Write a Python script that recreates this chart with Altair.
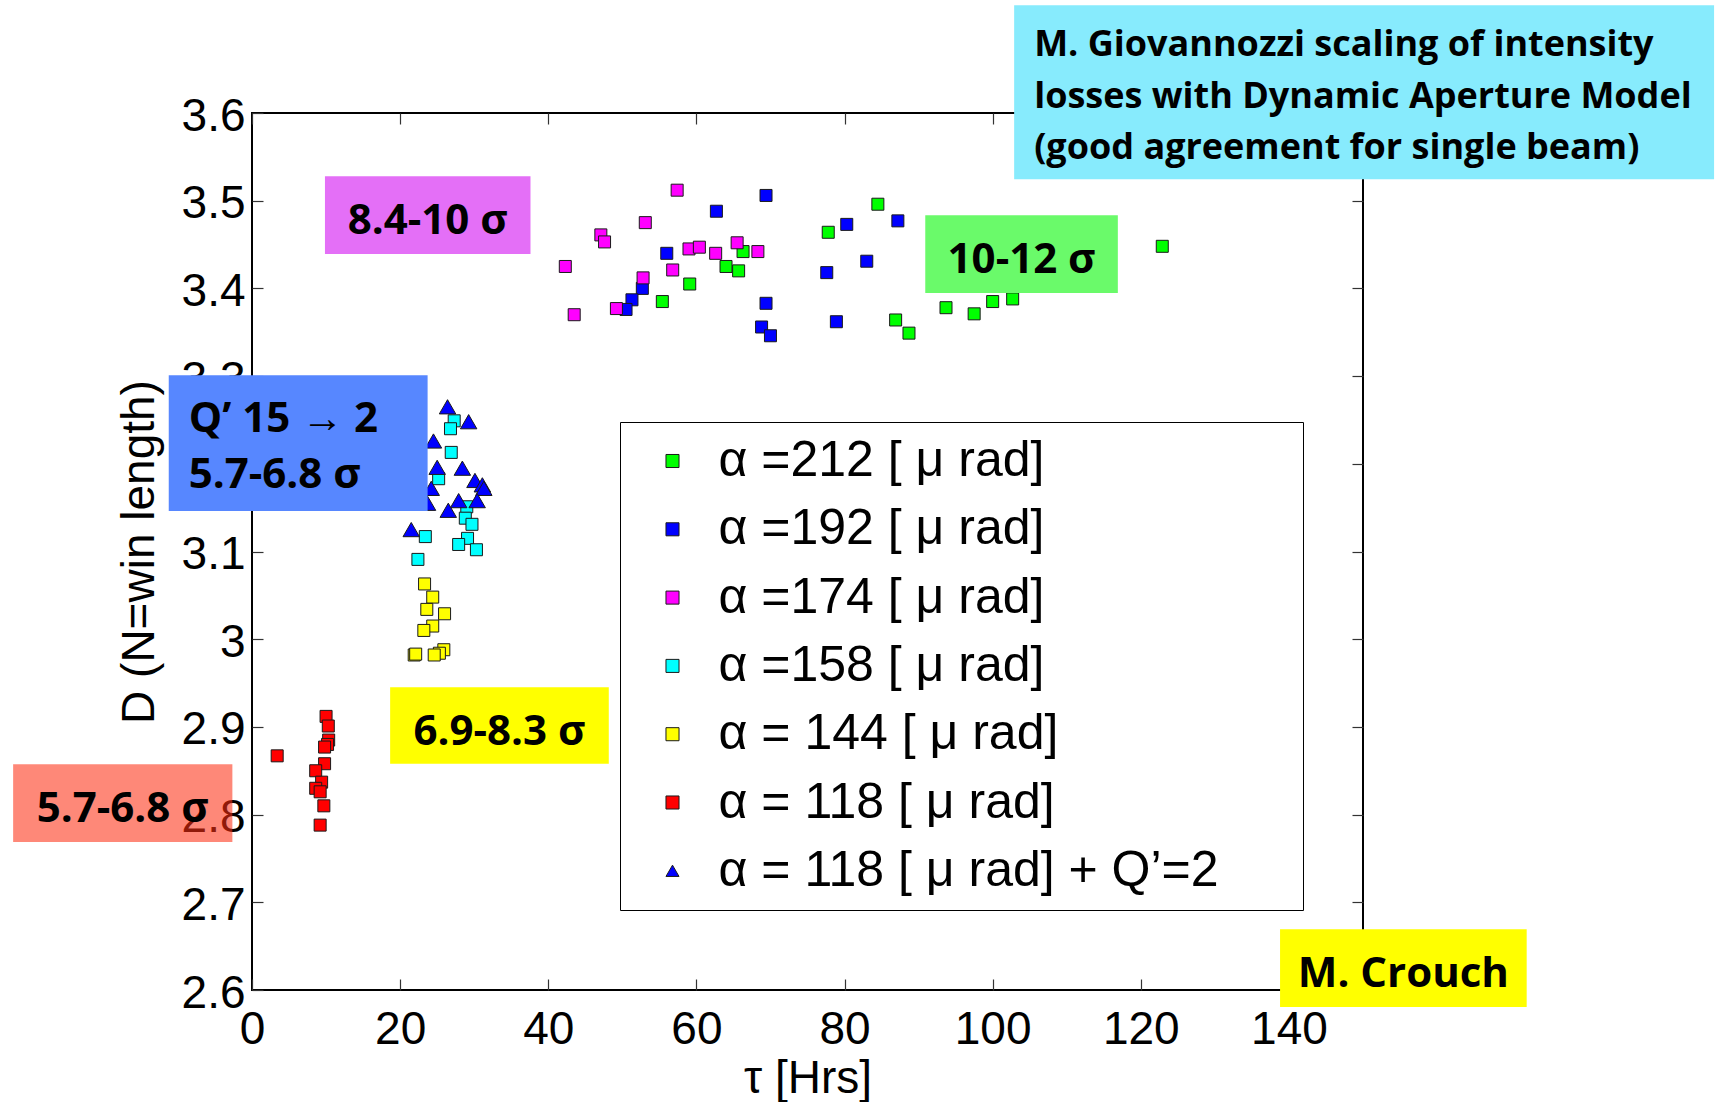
import altair as alt
import pandas as pd

# ---------------- data ----------------
SERIES = ["α =212 [ μ rad]", "α =192 [ μ rad]", "α =174 [ μ rad]", "α =158 [ μ rad]",
          "α = 144 [ μ rad]", "α = 118 [ μ rad]", "α = 118 [ μ rad] + Q’=2"]
COLORS = ["#00ff00", "#0000ff", "#ff00ff", "#00ffff", "#ffff00", "#ff0000", "#0000ff"]
SHAPES = ["square", "square", "square", "square", "square", "square", "triangle-up"]

tau_212 = [84.5, 77.8, 66.3, 64.0, 65.7, 59.1, 55.4, 122.9, 102.7, 100.0, 93.7, 97.5, 86.9, 88.7]
D_212 = [3.496, 3.464, 3.442, 3.425, 3.420, 3.405, 3.385, 3.448, 3.388, 3.385, 3.378, 3.371, 3.364, 3.349]

tau_192 = [69.4, 62.7, 56.0, 52.7, 51.3, 50.5, 69.4, 68.8, 70.0, 80.3, 87.2, 77.6, 83.0, 78.9]
D_192 = [3.506, 3.488, 3.440, 3.400, 3.387, 3.376, 3.383, 3.356, 3.346, 3.473, 3.477, 3.418, 3.431, 3.362]

tau_174 = [57.4, 53.1, 47.1, 47.6, 42.3, 59.0, 60.4, 62.6, 65.5, 68.3, 56.8, 52.8, 43.5, 49.2]
D_174 = [3.512, 3.475, 3.461, 3.453, 3.425, 3.445, 3.447, 3.440, 3.452, 3.442, 3.421, 3.412, 3.370, 3.377]

tau_158 = [27.3, 26.8, 26.9, 25.2, 29.0, 28.8, 29.7, 23.4, 29.1, 27.9, 30.3, 22.4]
D_158 = [3.249, 3.240, 3.213, 3.183, 3.151, 3.138, 3.131, 3.117, 3.115, 3.108, 3.102, 3.091]

tau_144 = [23.3, 24.4, 23.6, 26.0, 24.4, 23.2, 25.9, 25.3, 24.6, 21.9, 22.1]
D_144 = [3.063, 3.048, 3.034, 3.029, 3.015, 3.010, 2.988, 2.984, 2.982, 2.982, 2.983]

tau_118 = [3.4, 10.0, 10.3, 10.35, 10.2, 9.8, 9.8, 8.6, 9.4, 8.6, 9.2, 9.7, 9.2]
D_118 = [2.867, 2.912, 2.901, 2.885, 2.880, 2.877, 2.858, 2.850, 2.837, 2.830, 2.826, 2.810, 2.788]

tau_118q = [26.4, 29.25, 24.5, 25.0, 28.4, 30.1, 31.1, 31.3, 24.2, 23.7, 27.9, 30.4, 26.5, 21.5]
D_118q = [3.265, 3.248, 3.226, 3.196, 3.195, 3.181, 3.176, 3.172, 3.172, 3.155, 3.158, 3.158, 3.147, 3.125]

X_TICKS = [0, 20, 40, 60, 80, 100, 120, 140]
Y_TICKS = [2.6, 2.7, 2.8, 2.9, 3.0, 3.1, 3.2, 3.3, 3.4, 3.5, 3.6]

X_TITLE = "τ [Hrs]"
Y_TITLE = "D (N=win length)"

# annotation boxes (in data units) and their texts
ANN_LABEL = ["M. Giovannozzi scaling of intensity\nlosses with Dynamic Aperture Model\n(good agreement for single beam)",
             "8.4-10 σ", "10-12 σ", "Q’ 15 → 2\n5.7-6.8 σ", "6.9-8.3 σ", "5.7-6.8 σ", "M. Crouch"]
ANN_KIND = ["cyan", "c", "c", "blue", "c", "c", "c"]
ANN_X1 = [102.9, 9.85, 90.9, -11.24, 18.65, -32.25, 138.8]
ANN_X2 = [197.4, 37.6, 116.9, 23.71, 48.17, -2.65, 172.1]
ANN_Y1 = [3.7228, 3.5278, 3.4834, 3.3009, 2.9452, 2.8574, 2.6692]
ANN_Y2 = [3.5244, 3.4392, 3.3948, 3.1462, 2.8579, 2.7688, 2.5806]
ANN_FILL = ["#87ebfd", "#e46ff7", "#6afa6a", "#5787ff", "#ffff00", "#fe2d11", "#ffff00"]
ANN_OPACITY = [1, 1, 1, 1, 1, 0.57, 1]

# ---------------- frames ----------------
rows = []
for name, xs_, ys_ in zip(SERIES,
                          [tau_212, tau_192, tau_174, tau_158, tau_144, tau_118, tau_118q],
                          [D_212, D_192, D_174, D_158, D_144, D_118, D_118q]):
    for a, b in zip(xs_, ys_):
        rows.append({"series": name, "tau": a, "D": b})
df = pd.DataFrame(rows)

ann = pd.DataFrame({"label": ANN_LABEL, "kind": ANN_KIND, "x1": ANN_X1, "x2": ANN_X2,
                    "y1": ANN_Y1, "y2": ANN_Y2, "fill": ANN_FILL, "op": ANN_OPACITY})

W, H = 1111, 877
FONT = "Liberation Sans"
BOLD = "Open Sans"
xs = alt.Scale(domain=[0, 150], nice=False, zero=False)
ys = alt.Scale(domain=[2.6, 3.6], nice=False, zero=False)

tick_common = dict(offset=-11, tickSize=11, domain=False, grid=False,
                   tickColor="#333333", tickWidth=1.2)

x_axis = alt.Axis(values=X_TICKS, format="d", labelFont=FONT, labelFontSize=46,
                  labelColor="black", labelPadding=17, labelFlush=False, labelOverlap=False,
                  title=X_TITLE, titleFont=FONT, titleFontSize=46, titleFontWeight="normal",
                  titleColor="black", titlePadding=4, **tick_common)
y_axis = alt.Axis(values=Y_TICKS, format="~g", labelFont=FONT, labelFontSize=46,
                  labelColor="black", labelPadding=7, labelOffset=3, labelOverlap=False,
                  title=Y_TITLE, titleFont=FONT, titleFontSize=46, titleFontWeight="normal",
                  titleColor="black", titlePadding=18, **tick_common)
x_top = alt.Axis(orient="top", values=X_TICKS, labels=False, title=None, **tick_common)
y_right = alt.Axis(orient="right", values=Y_TICKS, labels=False, title=None, **tick_common)

# trailing no-break spaces (kept by a zero-width space) widen the legend frame on the right
PAD = "\u00a0" * 5 + "\u200b"
leg = alt.Legend(orient="none", legendX=368, legendY=309, title=None,
                 labelFont=FONT, labelFontSize=50, labelColor="black", labelLimit=0,
                 labelExpr="datum.label + '" + PAD + "'",
                 symbolSize=170, symbolStrokeColor="#1a1a1a", symbolStrokeWidth=1,
                 rowPadding=18.3, padding=14, symbolOffset=13.5, labelOffset=21,
                 strokeColor="black", fillColor="white")

points = alt.Chart(df).mark_point(filled=True, stroke="#1a1a1a", strokeWidth=1, opacity=1).encode(
    x=alt.X("tau:Q", scale=xs, axis=x_axis),
    y=alt.Y("D:Q", scale=ys, axis=y_axis),
    color=alt.Color("series:N", scale=alt.Scale(domain=SERIES, range=COLORS), legend=leg),
    shape=alt.Shape("series:N", scale=alt.Scale(domain=SERIES, range=SHAPES), legend=leg),
    size=alt.condition(alt.datum.series == SERIES[6], alt.value(270), alt.value(144)),
)

rects = alt.Chart(ann).mark_rect().encode(
    x=alt.X("x1:Q", scale=xs, axis=x_top),
    x2="x2:Q",
    y=alt.Y("y1:Q", scale=ys, axis=y_right),
    y2="y2:Q",
    fill=alt.Fill("fill:N", scale=None),
    opacity=alt.Opacity("op:Q", scale=None),
)

centered = alt.Chart(ann).transform_filter("datum.kind == 'c'").transform_calculate(
    xc="(datum.x1 + datum.x2) / 2", yc="(datum.y1 + datum.y2) / 2"
).mark_text(font=BOLD, fontWeight="bold", fontSize=42, align="center", baseline="middle",
            dy=6, color="black").encode(
    x=alt.X("xc:Q", scale=xs, axis=None),
    y=alt.Y("yc:Q", scale=ys, axis=None),
    text="label:N",
)

cyan_text = alt.Chart(ann).transform_filter("datum.kind == 'cyan'").mark_text(
    font=BOLD, fontWeight="bold", fontSize=36, align="left", baseline="top",
    dx=20, dy=23, lineBreak="\n", lineHeight=51.5, color="black").encode(
    x=alt.X("x1:Q", scale=xs, axis=None),
    y=alt.Y("y1:Q", scale=ys, axis=None),
    text="label:N",
)

blue_text = alt.Chart(ann).transform_filter("datum.kind == 'blue'").mark_text(
    font=BOLD, fontWeight="bold", fontSize=42, align="left", baseline="top",
    dx=20, dy=24, lineBreak="\n", lineHeight=55.3, color="black").encode(
    x=alt.X("x1:Q", scale=xs, axis=None),
    y=alt.Y("y1:Q", scale=ys, axis=None),
    text="label:N",
)

chart = alt.layer(points, rects, centered, cyan_text, blue_text).resolve_axis(
    x="independent", y="independent"
).properties(
    width=W, height=H,
    padding={"left": 252, "top": 113, "right": 352, "bottom": 112},
    autosize=alt.AutoSizeParams(type="none"),
    background="white",
).configure_view(stroke="black", strokeWidth=2)

chart.save("out.html", embed_options={"renderer": "svg", "actions": False})
